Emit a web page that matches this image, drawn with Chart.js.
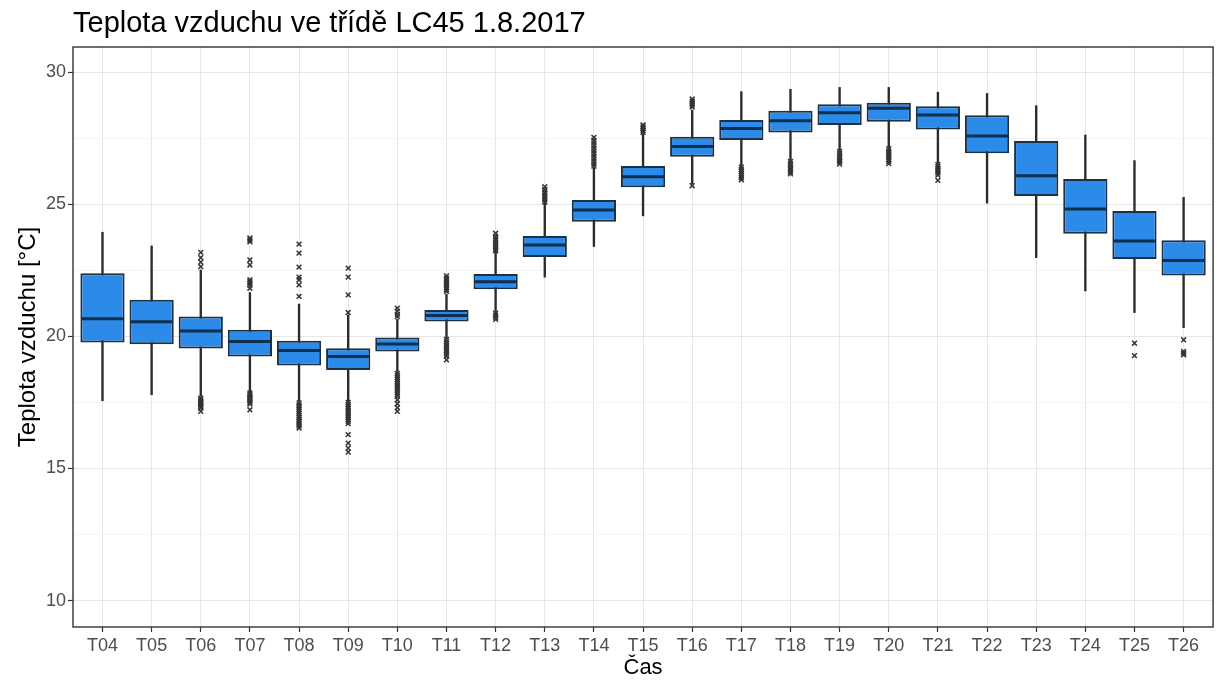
<!DOCTYPE html>
<html>
<head>
<meta charset="utf-8">
<script src="https://cdn.jsdelivr.net/npm/chart.js@4.4.1/dist/chart.umd.min.js"></script>
<style>
  html, body { margin: 0; padding: 0; background: #ffffff; }
  #wrap { width: 1218px; height: 689px; position: relative; }
</style>
</head>
<body>
<div id="wrap"><canvas id="c"></canvas></div>
<script>
const categories = ['T04','T05','T06','T07','T08','T09','T10','T11','T12','T13','T14','T15','T16','T17','T18','T19','T20','T21','T22','T23','T24','T25','T26'];

const whiskerHigh = [23.94, 23.42, 22.51, 21.66, 21.22, 20.81, 20.65, 21.60, 23.20, 25.05, 26.38, 27.66, 28.56, 29.26, 29.35, 29.42, 29.42, 29.24, 29.19, 28.73, 27.62, 26.65, 25.26];
const q3          = [22.39, 21.38, 20.75, 20.25, 19.83, 19.55, 19.96, 21.00, 22.36, 23.80, 25.16, 26.45, 27.55, 28.19, 28.54, 28.78, 28.84, 28.71, 28.37, 27.39, 25.95, 24.74, 23.64];
const median      = [20.67, 20.55, 20.20, 19.80, 19.46, 19.24, 19.71, 20.79, 22.07, 23.46, 24.78, 26.04, 27.18, 27.87, 28.16, 28.46, 28.63, 28.38, 27.58, 26.08, 24.82, 23.61, 22.87];
const q1          = [19.77, 19.70, 19.54, 19.24, 18.90, 18.73, 19.43, 20.56, 21.78, 23.00, 24.34, 25.64, 26.80, 27.43, 27.71, 28.00, 28.12, 27.83, 26.93, 25.31, 23.88, 22.93, 22.30];
const whiskerLow  = [17.56, 17.79, 17.73, 17.91, 17.54, 17.54, 18.67, 19.95, 20.94, 22.24, 23.40, 24.56, 25.78, 26.45, 26.67, 27.05, 27.15, 26.55, 25.04, 22.98, 21.72, 20.90, 20.33];

const outliers = [
  [],
  [],
  [23.18, 22.98, 22.81, 22.64, 17.66, 17.60, 17.55, 17.50, 17.45, 17.40, 17.35, 17.29, 17.16],
  [23.72, 23.65, 23.58, 22.89, 22.70, 22.14, 22.07, 22.01, 21.94, 21.82, 17.86, 17.80, 17.74, 17.68, 17.62, 17.56, 17.50, 17.44, 17.22],
  [23.49, 23.15, 22.62, 22.24, 22.14, 21.95, 21.51, 17.48, 17.40, 17.32, 17.24, 17.16, 17.08, 17.00, 16.92, 16.84, 16.76, 16.68, 16.60, 16.53],
  [22.58, 22.24, 21.57, 20.90, 17.50, 17.42, 17.34, 17.26, 17.18, 17.10, 17.02, 16.94, 16.86, 16.78, 16.70, 16.28, 15.96, 15.77, 15.62],
  [21.07, 20.95, 20.83, 20.75, 18.60, 18.52, 18.44, 18.36, 18.28, 18.20, 18.12, 18.04, 17.96, 17.88, 17.80, 17.73, 17.60, 17.45, 17.30, 17.16],
  [22.29, 22.20, 22.12, 22.05, 21.98, 21.91, 21.84, 21.77, 21.70, 19.88, 19.80, 19.72, 19.64, 19.56, 19.48, 19.40, 19.32, 19.24, 19.11],
  [23.90, 23.78, 23.70, 23.62, 23.54, 23.46, 23.38, 23.30, 23.24, 20.88, 20.80, 20.72, 20.64],
  [25.66, 25.55, 25.47, 25.40, 25.32, 25.24, 25.16, 25.08],
  [27.53, 27.42, 27.32, 27.22, 27.12, 27.02, 26.92, 26.82, 26.72, 26.62, 26.52, 26.44],
  [28.00, 27.93, 27.86, 27.79, 27.72],
  [28.98, 28.90, 28.82, 28.75, 28.68, 25.70],
  [26.40, 26.32, 26.24, 26.16, 26.08, 26.00, 25.92],
  [26.62, 26.54, 26.46, 26.38, 26.30, 26.22, 26.15],
  [27.00, 26.92, 26.84, 26.76, 26.68, 26.60, 26.52],
  [27.10, 27.02, 26.94, 26.86, 26.78, 26.70, 26.62, 26.54],
  [26.50, 26.42, 26.34, 26.26, 26.18, 26.10, 25.90],
  [],
  [],
  [],
  [19.74, 19.27],
  [19.87, 19.43, 19.36, 19.30]
];

const yMajorTicks = [10, 15, 20, 25, 30];
const yMinorTicks = [12.5, 17.5, 22.5, 27.5];

const titleText = 'Teplota vzduchu ve třídě LC45 1.8.2017';
const xTitle = 'Čas';
const yTitle = 'Teplota vzduchu [°C]';

const boxData = categories.map((c, i) => ({ x: i, y: [q1[i], q3[i]] }));
const whiskerData = categories.map((c, i) => ({ x: i, y: [whiskerLow[i], whiskerHigh[i]] }));
const medianData = categories.map((c, i) => ({ x: i, y: median[i] }));
const outlierData = outliers.flatMap((arr, i) => arr.map(v => ({ x: i, y: v })));

const panelBorder = {
  id: 'panelBorder',
  afterDraw(chart) {
    const { ctx, chartArea: a } = chart;
    ctx.save();
    ctx.strokeStyle = '#333333';
    ctx.lineWidth = 1.4;
    ctx.strokeRect(a.left, a.top, a.right - a.left, a.bottom - a.top);
    ctx.restore();
  }
};

const tickFont = { family: 'Liberation Sans', size: 18 };
const halfBox = (ctx) => {
  const xs = ctx.chart.scales.x;
  return (xs.getPixelForValue(1) - xs.getPixelForValue(0)) * 0.45 - 1;
};

new Chart(document.getElementById('c'), {
  type: 'bar',
  data: {
    datasets: [
      {
        type: 'scatter',
        label: 'outliers',
        data: outlierData,
        order: 0,
        pointStyle: 'crossRot',
        radius: 3.4,
        hoverRadius: 3.4,
        borderWidth: 1.5,
        borderColor: '#333333',
        backgroundColor: '#333333'
      },
      {
        type: 'scatter',
        label: 'median',
        data: medianData,
        order: 1,
        pointStyle: 'line',
        radius: halfBox,
        hoverRadius: halfBox,
        borderWidth: 3,
        borderColor: '#0f2f4e'
      },
      {
        label: 'box',
        data: boxData,
        order: 2,
        grouped: false,
        categoryPercentage: 1,
        barPercentage: 0.9,
        backgroundColor: '#2c8be9',
        borderColor: '#1f3040',
        borderWidth: 2,
        borderSkipped: false
      },
      {
        label: 'whisker',
        data: whiskerData,
        order: 3,
        grouped: false,
        barThickness: 1.7,
        backgroundColor: '#2b2b2b',
        borderWidth: 0
      }
    ]
  },
  options: {
    responsive: true,
    maintainAspectRatio: false,
    animation: false,
    events: [],
    layout: { padding: { left: 0, right: 1.5, top: 0, bottom: 0 } },
    plugins: {
      legend: { display: false },
      tooltip: { enabled: false },
      title: {
        display: true,
        text: titleText,
        align: 'start',
        fullSize: false,
        color: '#000000',
        font: { family: 'Liberation Sans', size: 29, weight: 'normal', lineHeight: 1.2 },
        padding: { top: 7, bottom: 5.2 }
      }
    },
    scales: {
      x: {
        type: 'linear',
        min: -0.6,
        max: 22.6,
        offset: false,
        afterBuildTicks: (scale) => { scale.ticks = categories.map((c, i) => ({ value: i })); },
        afterFit: (scale) => { scale.height = 62; },
        ticks: {
          autoSkip: false,
          maxRotation: 0,
          padding: 3,
          color: '#4d4d4d',
          font: tickFont,
          callback: (v) => categories[v]
        },
        grid: {
          offset: false,
          color: '#e6e6e6',
          lineWidth: 1,
          drawTicks: true,
          tickLength: 5,
          tickColor: '#333333',
          tickWidth: 1.2
        },
        border: { display: false },
        title: {
          display: true,
          text: xTitle,
          color: '#000000',
          font: { family: 'Liberation Sans', size: 22, lineHeight: 1.2 },
          padding: { top: 0, bottom: 8 }
        }
      },
      y: {
        type: 'linear',
        min: 9.0,
        max: 30.95,
        afterBuildTicks: (scale) => {
          scale.ticks = yMajorTicks.concat(yMinorTicks).sort((a, b) => a - b).map(v => ({ value: v }));
        },
        afterFit: (scale) => { scale.width = 73; },
        ticks: {
          padding: 2,
          color: '#4d4d4d',
          font: tickFont,
          callback: (v) => (yMajorTicks.includes(v) ? String(v) : '')
        },
        grid: {
          color: (ctx) => (ctx.tick && yMajorTicks.includes(ctx.tick.value) ? '#e6e6e6' : '#f2f2f2'),
          lineWidth: (ctx) => (ctx.tick && yMajorTicks.includes(ctx.tick.value) ? 1 : 0.8),
          drawTicks: true,
          tickLength: 5,
          tickColor: (ctx) => (ctx.tick && yMajorTicks.includes(ctx.tick.value) ? '#333333' : 'rgba(0,0,0,0)'),
          tickWidth: 1.2
        },
        border: { display: false },
        title: {
          display: true,
          text: yTitle,
          color: '#000000',
          font: { family: 'Liberation Sans', size: 24, lineHeight: 1.2 },
          padding: { top: 14, bottom: 0 }
        }
      }
    }
  },
  plugins: [panelBorder]
});
</script>
</body>
</html>
